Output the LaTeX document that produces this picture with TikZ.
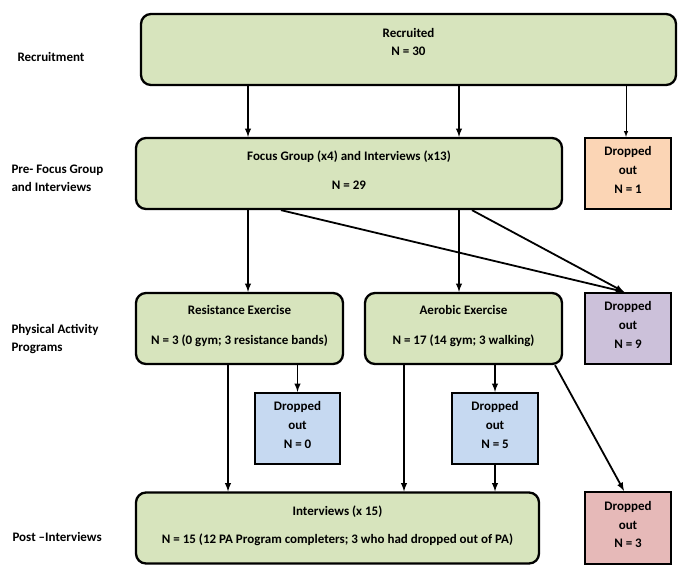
\documentclass[tikz,border=0pt]{standalone}
\usepackage{fontspec}
\setmainfont{Carlito}
\usepackage{tikz}
\definecolor{stagegreen}{HTML}{D7E4BD}
\definecolor{droporange}{HTML}{FBD5B5}
\definecolor{droppurple}{HTML}{CCC1DA}
\definecolor{dropblue}{HTML}{C6D9F1}
\definecolor{dropred}{HTML}{E6B9B8}
\tikzset{
	stage/.style={draw, line width=2.3pt, rounded corners=10pt, fill=stagegreen, align=center, inner sep=0pt, minimum height=71, text depth=7pt},
	dropbox/.style={draw, line width=2.3pt, align=center, inner sep=0pt, minimum width=86, minimum height=71, text depth=7pt},
	phase/.style={anchor=west, align=left},
	flow/.style={-latex, line width=1.8pt},
}

\begin{document}
\begin{tikzpicture}[x=1pt, y=-1pt, font=\bfseries\fontsize{13}{15.6}\selectfont]
	\useasboundingbox (0,0) rectangle (685,579);

	% phase labels
	\node[phase] (lblrec) at (14,57) {Recruitment};
	\node[phase] (lblpre) at (8,178) {Pre- Focus Group\\[2pt]and Interviews};
	\node[phase] (lblpa) at (8,339) {Physical Activity\\[2pt]Programs};
	\node[phase] (lblpost) at (9,537) {Post –Interviews};

	% stages
	\node[stage, minimum width=535, text depth=15pt] (rec) at (408.5,49.5) {Recruited\\[3pt]N = 30};
	\node[stage, minimum width=426] (focus) at (349,173.5) {Focus Group (x4) and Interviews (x13)\\[14pt]N = 29};
	\node[stage, minimum width=207] (resist) at (239.5,328.5) {Resistance Exercise\\[14pt]N = 3 (0 gym; 3 resistance bands)};
	\node[stage, minimum width=197] (aerob) at (463.5,328.5) {Aerobic Exercise\\[14pt]N = 17 (14 gym; 3 walking)};
	\node[stage, minimum width=403] (post) at (337.5,528) {Interviews (x 15)\\[12pt]N = 15 (12 PA Program completers; 3 who had dropped out of PA)};

	% dropped out
	\node[dropbox, fill=droporange] (drop1) at (628,173.5) {Dropped\\[3pt]out\\[3pt]N = 1};
	\node[dropbox, fill=droppurple] (drop9) at (628,328.5) {Dropped\\[3pt]out\\[3pt]N = 9};
	\node[dropbox, fill=dropblue, minimum width=85] (drop0) at (297.5,428.5) {Dropped\\[3pt]out\\[3pt]N = 0};
	\node[dropbox, fill=dropblue] (drop5) at (495,428.5) {Dropped\\[3pt]out\\[3pt]N = 5};
	\node[dropbox, fill=dropred, minimum height=72] (drop3) at (628,528) {Dropped\\[3pt]out\\[3pt]N = 3};

	% arrows
	\draw[flow] (248,0 |- rec.south) -- (248,0 |- focus.north);
	\draw[flow] (459,0 |- rec.south) -- (459,0 |- focus.north);
	\draw[-latex, line width=1pt] (626,0 |- rec.south) -- (drop1.north -| 626,0);

	\draw[flow] (248,0 |- focus.south) -- (248,0 |- resist.north);
	\draw[flow] (459,0 |- focus.south) -- (459,0 |- aerob.north);
	\draw[flow] (281,0 |- focus.south) -- (624,0 |- drop9.north);
	\draw[flow] (472,0 |- focus.south) -- (624,0 |- drop9.north);

	\draw[flow] (228,0 |- resist.south) -- (228,0 |- post.north);
	\draw[flow] (drop0.north |- resist.south) -- (drop0.north);
	\draw[flow] (404,0 |- aerob.south) -- (404,0 |- post.north);
	\draw[flow] (drop5.north |- aerob.south) -- (drop5.north);
	\draw[flow] (drop5.south) -- (drop5.south |- post.north);
	\draw[flow] (555,0 |- aerob.south) -- (624,0 |- drop3.north);
\end{tikzpicture}
\end{document}
